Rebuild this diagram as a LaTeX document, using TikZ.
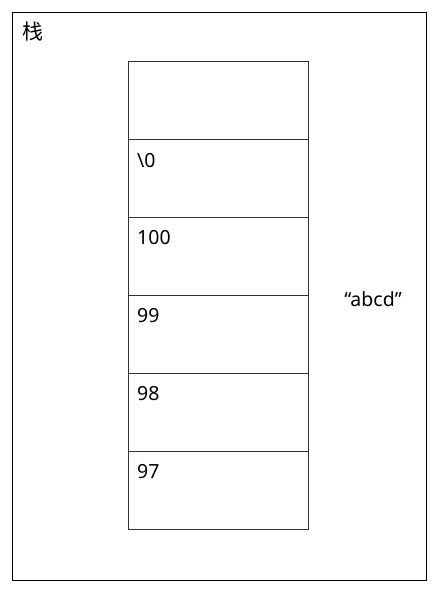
\documentclass[tikz,border=0pt]{standalone}
\usepackage{fontspec}
\setmainfont{Noto Sans}
\newfontfamily\cjk{Noto Sans CJK SC}
\begin{document}
\begin{tikzpicture}[x=1pt,y=-1pt,
  frame/.style={draw=black,line width=1pt},
  cell/.style={draw=black!80,line width=1pt,minimum width=180pt,minimum height=78pt,inner sep=0pt,outer sep=0pt},
  lbl/.style={anchor=north west,inner sep=0pt,font=\fontsize{19.5}{22}\selectfont}]
\useasboundingbox (0,0) rectangle (442,596);
\node[frame,minimum width=414pt,minimum height=568pt,inner sep=0pt,anchor=north west] (outer) at (12,12) {};
\node[anchor=north west,inner sep=0pt,font=\cjk\fontsize{21}{23}\selectfont] (title) at (22,22) {栈};
\foreach \i/\t in {0/,1/\textbackslash0,2/100,3/99,4/98,5/97}{
  \node[cell,anchor=north west] (c\i) at (128,{62+77.8*\i}) {};
  \node[lbl] (l\i) at ([xshift=9pt,yshift=-13pt]c\i.north west) {\t};
}
\node[font=\fontsize{19.5}{22}\selectfont,inner sep=0pt] (str) at (373,299) {“abcd”};
\end{tikzpicture}
\end{document}
